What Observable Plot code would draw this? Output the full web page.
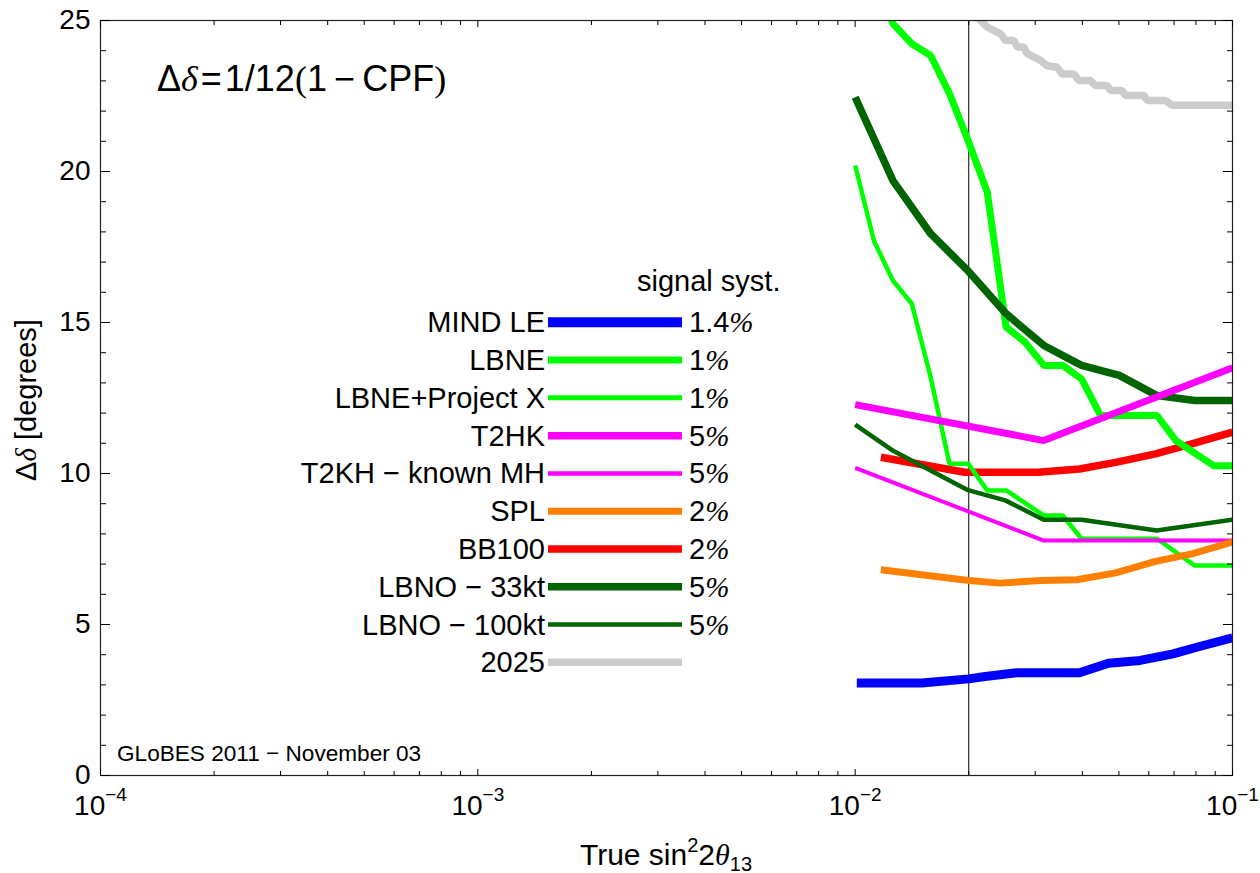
<!DOCTYPE html>
<html><head><meta charset="utf-8">
<script src="https://cdn.jsdelivr.net/npm/d3@7"></script>
<script src="https://cdn.jsdelivr.net/npm/@observablehq/plot@0.6"></script>
<style>
html,body{margin:0;padding:0;background:#fff;}
#chart svg{display:block;}
</style>
</head><body><div id="chart"></div>
<script>
const SANS = "'Liberation Sans', Arial, Helvetica, sans-serif";
const SERIF = "'Liberation Serif', 'Times New Roman', serif";

// ---- legend / series metadata ----
const names = ["MIND LE", "LBNE", "LBNE+Project X", "T2HK", "T2KH \u2212 known MH", "SPL", "BB100", "LBNO \u2212 33kt", "LBNO \u2212 100kt", "2025"];
const systematics = ["1.4", "1", "1", "5", "5", "2", "2", "5", "5", ""];
const colors = ["#0000ff", "#00ff00", "#00ff00", "#ff00ff", "#ff00ff", "#ff8000", "#ff0000", "#006400", "#006400", "#cccccc"];
const lineWidths = [9, 7, 4.5, 7, 4, 7, 7.5, 7.5, 4.5, 7.5];
const legendWidths = [10, 7, 5, 7.5, 4.5, 7, 7.5, 7.5, 4.5, 7.5];

// ---- series values: [true sin^2 2theta13, delta-delta in degrees] ----
const mindLE = [[0.0101,3.06],[0.015,3.06],[0.02,3.2],[0.0221,3.28],[0.0268,3.4],[0.0393,3.4],[0.0469,3.72],[0.0569,3.81],[0.0696,4.03],[0.0795,4.23],[0.1,4.56]];
const lbne = [[0.01,28.4],[0.01122,26.6],[0.01259,24.9],[0.01413,24.23],[0.01585,23.84],[0.01778,22.58],[0.01995,21.0],[0.02239,19.32],[0.02512,14.85],[0.02818,14.35],[0.03162,13.58],[0.03548,13.58],[0.03981,13.13],[0.04467,11.92],[0.05012,11.92],[0.0631,11.92],[0.07079,11.09],[0.08913,10.26],[0.1,10.26]];
const lbnePX = [[0.01,20.2],[0.01122,17.7],[0.01259,16.39],[0.01413,15.62],[0.01585,13.19],[0.01778,10.32],[0.01995,10.32],[0.02239,9.44],[0.02512,9.44],[0.03162,8.61],[0.03548,8.61],[0.03981,7.84],[0.0631,7.84],[0.07943,6.95],[0.1,6.95]];
const t2hk = [[0.01,12.28],[0.0316,11.09],[0.1,13.5]];
const t2khMH = [[0.01,10.19],[0.0316,7.78],[0.1,7.78]];
const spl = [[0.0117,6.81],[0.02,6.46],[0.0242,6.37],[0.0311,6.46],[0.0387,6.48],[0.049,6.71],[0.0625,7.09],[0.078,7.34],[0.1,7.73]];
const bb100 = [[0.0117,10.54],[0.0195,10.04],[0.0305,10.04],[0.0393,10.15],[0.049,10.37],[0.0625,10.65],[0.078,10.98],[0.1,11.37]];
const lbno33 = [[0.01,22.46],[0.01259,19.7],[0.01585,17.94],[0.01995,16.7],[0.02512,15.29],[0.03162,14.24],[0.03981,13.58],[0.05012,13.25],[0.0631,12.58],[0.07943,12.42],[0.1,12.42]];
const lbno100 = [[0.01,11.62],[0.0125,10.78],[0.0198,9.46],[0.025,9.11],[0.0316,8.47],[0.0398,8.47],[0.063,8.11],[0.1,8.47]];
const y2025 = [[0.0200,25.4],[0.02239,24.78],[0.02428,24.56],[0.02503,24.34],[0.02634,24.34],[0.02689,24.12],[0.02798,24.12],[0.02858,23.9],[0.03099,23.68],[0.03228,23.5],[0.03431,23.45],[0.03537,23.23],[0.03798,23.23],[0.03915,23.01],[0.04204,23.01],[0.04335,22.85],[0.04656,22.85],[0.0475,22.68],[0.05101,22.68],[0.05205,22.52],[0.05821,22.52],[0.05943,22.35],[0.06645,22.35],[0.06924,22.19],[0.1,22.19]];

const seriesData = [mindLE, lbne, lbnePX, t2hk, t2khMH, spl, bb100, lbno33, lbno100, y2025];
const drawOrder = [9, 6, 1, 2, 7, 8, 3, 4, 5, 0];

// ---- axes ----
const xDomain = [1e-4, 1e-1];
const yDomain = [0, 25];
const yMajor = [0, 5, 10, 15, 20, 25];
const yMinor = [1,2,3,4,6,7,8,9,11,12,13,14,16,17,18,19,21,22,23,24];
const xMajor = [1e-4, 1e-3, 1e-2, 1e-1];
const xMinorMult = [2,3,4,5,6,7,8,9];
const xMinor = [1e-4, 1e-3, 1e-2].flatMap(d => xMinorMult.map(k => k * d));
const refX = [0.02];

const title = ["\u0394", "\u03b4", "\u200a=\u200a1/12", "(", "1\u2009\u2212\u2009CPF", ")"];
const footer = "GLoBES 2011 \u2212 November 03";

const lineMarks = drawOrder.map(i => Plot.line(seriesData[i], {
  x: d => d[0], y: d => d[1], stroke: colors[i], strokeWidth: lineWidths[i],
  strokeLinejoin: "miter", strokeLinecap: "butt", clip: true
}));

const chart = Plot.plot({
  width: 1260, height: 873,
  marginLeft: 100, marginRight: 28, marginTop: 20, marginBottom: 98,
  style: {fontFamily: SANS, fontSize: "28px", color: "#000", background: "#fff", overflow: "visible"},
  x: {type: "log", domain: xDomain},
  y: {domain: yDomain},
  marks: [
    Plot.ruleX(refX, {stroke: "#000", strokeWidth: 1}),
    ...lineMarks,
    Plot.frame({stroke: "#222", strokeWidth: 1.2}),
    Plot.axisY(yMajor, {anchor: "left", tickSize: -10, tickPadding: 20, label: null, tickFormat: d => String(d)}),
    Plot.axisY(yMinor, {anchor: "left", tickSize: -6, fill: "none", label: null}),
    Plot.axisY(yMajor, {anchor: "right", tickSize: -10, fill: "none", label: null}),
    Plot.axisY(yMinor, {anchor: "right", tickSize: -6, fill: "none", label: null}),
    Plot.axisX(xMajor, {anchor: "bottom", tickSize: -6, tickPadding: 26, label: null, tickFormat: d => String(Math.round(Math.log10(d)))}),
    Plot.axisX(xMinor, {anchor: "bottom", tickSize: -4, fill: "none", label: null}),
    Plot.axisX(xMajor, {anchor: "top", tickSize: -6, fill: "none", label: null}),
    Plot.axisX(xMinor, {anchor: "top", tickSize: -4, fill: "none", label: null})
  ]
});
document.getElementById("chart").append(chart);

const svg = d3.select(chart);

// x tick labels as powers of ten
svg.selectAll('g[aria-label="x-axis tick label"] text').each(function() {
  const t = d3.select(this);
  const e = t.text().replace("-", "\u2212");
  t.text(null);
  t.append("tspan").text("10");
  t.append("tspan").attr("font-size", 19).attr("dy", -14).text(e);
});

// title
const tt = svg.append("text").attr("x", 157).attr("y", 91).attr("text-anchor", "start").attr("font-size", 36).attr("font-family", SANS);
tt.append("tspan").text(title[0]);
tt.append("tspan").attr("font-family", SERIF).attr("font-style", "italic").text(title[1]);
tt.append("tspan").text(title[2]);
tt.append("tspan").attr("font-family", SERIF).text(title[3]);
tt.append("tspan").text(title[4]);
tt.append("tspan").attr("font-family", SERIF).text(title[5]);

// footer
svg.append("text").attr("x", 117).attr("y", 761).attr("text-anchor", "start").attr("font-size", 22.6).attr("font-family", SANS).text(footer);

// axis labels
const xl = svg.append("text").attr("x", 666).attr("y", 865).attr("text-anchor", "middle").attr("font-size", 30).attr("font-family", SANS);
xl.append("tspan").text("True sin");
xl.append("tspan").attr("font-size", 20).attr("dy", -13).text("2");
xl.append("tspan").attr("dy", 13).text("2");
xl.append("tspan").attr("font-family", SERIF).attr("font-style", "italic").text("\u03b8");
xl.append("tspan").attr("font-size", 20).attr("dy", 6).text("13");

const yl = svg.append("text").attr("transform", "translate(36,400) rotate(-90)").attr("text-anchor", "middle").attr("font-size", 29).attr("font-family", SANS);
yl.append("tspan").text("\u0394");
yl.append("tspan").attr("font-family", SERIF).attr("font-style", "italic").text("\u03b4");
yl.append("tspan").text(" [degrees]");

// legend
const lg = svg.append("g").attr("font-family", SANS).attr("font-size", 29).attr("text-anchor", "start");
lg.append("text").attr("x", 637).attr("y", 291).text("signal syst.");
names.forEach((n, i) => {
  const cy = 322.3 + i * 37.78;
  lg.append("text").attr("x", 545).attr("y", cy + 10).attr("text-anchor", "end").text(n);
  lg.append("line").attr("x1", 548).attr("x2", 682).attr("y1", cy).attr("y2", cy)
    .attr("stroke", colors[i]).attr("stroke-width", legendWidths[i]);
  if (systematics[i]) {
    const p = lg.append("text").attr("x", 689).attr("y", cy + 10);
    p.append("tspan").text(systematics[i]);
    p.append("tspan").attr("font-family", SERIF).attr("font-style", "italic").text("%");
  }
});
</script>
</body></html>
